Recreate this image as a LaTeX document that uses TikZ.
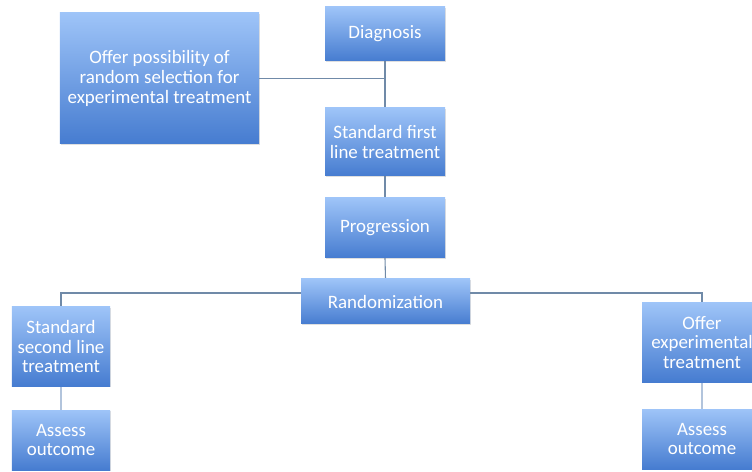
\documentclass[tikz,border=0pt]{standalone}
\usepackage{fontspec}
\setmainfont{Carlito}
\usepackage{tikz}
\usetikzlibrary{positioning, calc, shadows, backgrounds}
\definecolor{boxtop}{RGB}{158, 196, 248}
\definecolor{boxbot}{RGB}{70, 124, 208}
\definecolor{linkdark}{RGB}{112, 138, 168}
\definecolor{linklight}{RGB}{178, 196, 220}
\tikzset{
  flowbox/.style={rectangle, top color=boxtop, bottom color=boxbot, draw=none,
    text=white, align=center, inner sep=1pt,
    font=\fontsize{19}{19.7}\selectfont,
    drop shadow={opacity=0.25, shadow xshift=0.8pt, shadow yshift=-1.2pt}},
  link/.style={draw=linkdark, line width=1.1pt},
  linklt/.style={draw=linklight, line width=1.1pt}
}

\begin{document}
\begin{tikzpicture}[x=1bp, y=-1bp]
\useasboundingbox (0,0) rectangle (752,472);
\clip (0,0) rectangle (752,472);
% top part
\node[flowbox, minimum width=199bp, minimum height=131bp] (offer) at (159.5,78.5)
  {Offer possibility of\\random selection for\\experimental treatment};
\node[flowbox, minimum width=120bp, minimum height=54bp] (diag) at (385,34) {Diagnosis};
\node[flowbox, minimum width=120bp, minimum height=68bp] (first) at (385,142)
  {Standard first\\line treatment};
\node[flowbox, minimum width=120bp, minimum height=60bp] (prog) at (385,228) {Progression};
\node[flowbox, minimum width=169bp, minimum height=45bp] (rand) at (385.5,301.5) {Randomization};
\coordinate (split) at (385,293);

% two arms
\node[flowbox, minimum width=98bp, minimum height=79bp] (second) at (61,346.5)
  {Standard\\second line\\treatment};
\node[flowbox, minimum width=98bp, minimum height=60bp] (assessl) at (61,440)
  {Assess\\outcome};
\node[flowbox, minimum width=120bp, minimum height=79bp] (exper) at (702,342.5)
  {Offer\\experimental\\treatment};
\node[flowbox, minimum width=120bp, minimum height=60bp] (assessr) at (702,439)
  {Assess\\outcome};

% connectors
\begin{scope}[on background layer]
\draw[link] (diag.south) -- (first.north);
\draw[link] (offer.east) -- (offer.east -| diag.south);
\draw[link] (first.south) -- (prog.north);
\draw[link] (prog.south) -- (rand.north);
\draw[link] (second.north) |- (split) -| (exper.north);
\draw[linklt] (second.south) -- (assessl.north);
\draw[linklt] (exper.south) -- (assessr.north);
\end{scope}
\end{tikzpicture}
\end{document}
